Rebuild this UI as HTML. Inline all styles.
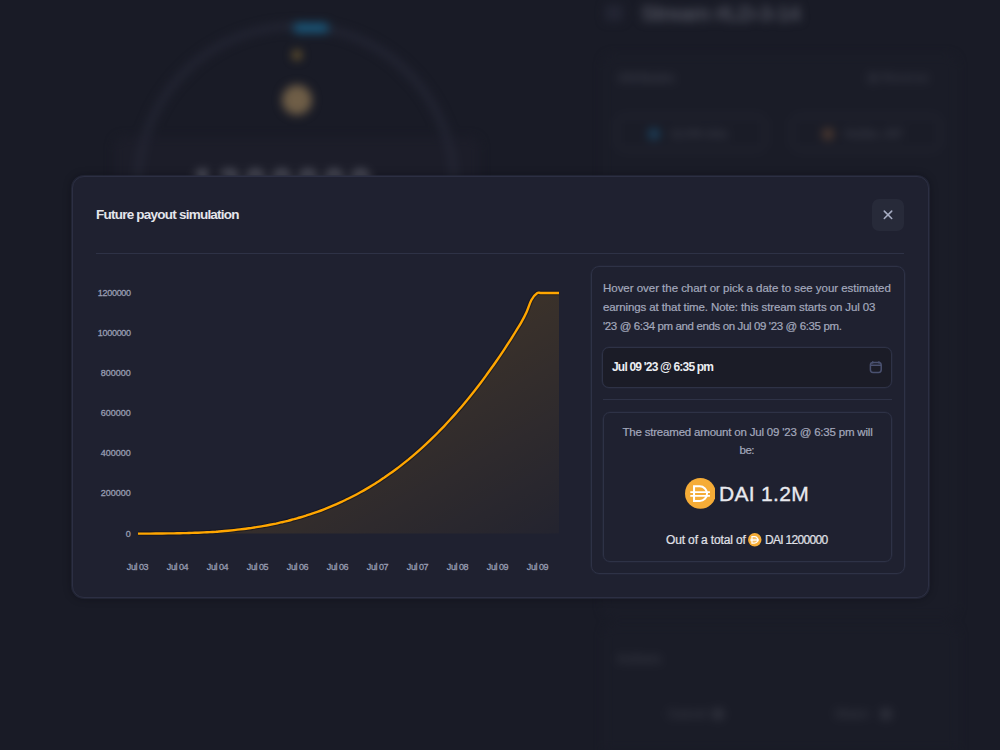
<!DOCTYPE html>
<html><head><meta charset="utf-8">
<style>
*{box-sizing:border-box;margin:0;padding:0}
html,body{width:1000px;height:750px;overflow:hidden;background:#191b26;font-family:"Liberation Sans",sans-serif}
body{position:relative}
.abs{position:absolute}
.t{position:absolute;white-space:nowrap}
#bg{position:absolute;left:0;top:0;width:1000px;height:750px;filter:blur(5px)}
#modal{position:absolute;left:72px;top:176px;width:857px;height:422px;background:#1f2130;border:1px solid #2c2f43;border-radius:12px;box-shadow:0 0 0 1px rgba(42,45,64,0.6),0 0 8px rgba(8,8,14,0.4)}
.hdiv{position:absolute;left:96px;top:253px;width:808px;height:1px;background:#2e3246}
.close{position:absolute;left:872px;top:199px;width:32px;height:32px;border-radius:7px;background:#272a39}
#panel{position:absolute;left:590.5px;top:265.5px;width:314px;height:308.5px;border:1px solid #2e3246;border-radius:8px;box-shadow:0 0 0 0.6px rgba(46,50,70,0.5)}
.inp{position:absolute;left:602px;top:346.5px;width:290px;height:41px;background:#1b1c27;border:1px solid #2e3246;border-radius:7px;box-shadow:0 0 0 0.6px rgba(46,50,70,0.5)}
.pdiv{position:absolute;left:603px;top:399px;width:289px;height:1px;background:#2e3246}
.res{position:absolute;left:603px;top:412px;width:288.5px;height:149.5px;border:1px solid #2e3246;border-radius:7px;box-shadow:0 0 0 0.6px rgba(46,50,70,0.5)}
</style></head><body>
<div id="bg">
  <svg class="abs" style="left:0;top:0" width="1000" height="750">
    <rect x="114" y="137" width="366" height="60" rx="10" fill="#1c1d29"/>
    <rect x="604" y="56" width="352" height="560" rx="10" fill="#1a1c27" stroke="#1d1f2a" stroke-width="2"/>
    <rect x="605" y="626" width="352" height="150" rx="10" fill="#1a1c27" stroke="#1d1f2a" stroke-width="2"/>
    <circle cx="718" cy="714" r="6" fill="#30323d"/>
    <circle cx="886" cy="714" r="6" fill="#30323d"/>
    <circle cx="296" cy="184" r="158" fill="none" stroke="#232533" stroke-width="7"/>
    <rect x="293" y="23" width="36" height="10" rx="5" fill="#1a577a"/>
    <circle cx="297" cy="55" r="4.5" fill="#7a6230"/>
    <circle cx="297" cy="100" r="15" fill="#6f5e47"/>
    <rect x="617" y="116" width="148" height="34" rx="8" fill="none" stroke="#262835" stroke-width="2"/>
    <rect x="792" y="116" width="148" height="34" rx="8" fill="none" stroke="#262835" stroke-width="2"/>
    <circle cx="654" cy="134" r="6" fill="#1b3f5a"/>
    <circle cx="828" cy="134" r="6" fill="#4e3a30"/>
    <rect x="605" y="5" width="18" height="16" rx="3" fill="#232533"/>
    <rect x="868" y="73" width="10" height="10" rx="2" fill="#2a2c38"/>
  </svg>
  <div class="t" style="left:192.5px;top:165px;font-size:38px;line-height:38px;color:#6a6c78;letter-spacing:5.1px;font-weight:bold">1200000</div>
  <div class="t" style="left:641px;top:2px;font-size:22px;line-height:24px;color:#4e505c;letter-spacing:-1.0px;font-weight:bold">Stream #LD-3-14</div>
  <div class="t" style="left:618px;top:71px;font-size:12px;line-height:14px;color:#3b3d49;font-weight:bold">Attributes</div>
  <div class="t" style="left:882px;top:71px;font-size:12px;line-height:14px;color:#353743;font-weight:bold">Reverse</div>
  <div class="t" style="left:670px;top:127px;font-size:12px;line-height:14px;color:#3a3c48;font-weight:bold">12.0% bhz</div>
  <div class="t" style="left:845px;top:127px;font-size:12px;line-height:14px;color:#3a3c48;font-weight:bold">0x2bc..f47</div>
  <div class="t" style="left:617px;top:652px;font-size:12px;line-height:14px;color:#383a45;font-weight:bold">Actions</div>
  <div class="t" style="left:668px;top:707px;font-size:12px;line-height:14px;color:#363843;font-weight:bold">Cancel</div>
  <div class="t" style="left:835px;top:707px;font-size:12px;line-height:14px;color:#363843;font-weight:bold">Share</div>
</div>

<div id="modal"></div>
<div class="close"></div>
<svg class="abs" style="left:872px;top:199px" width="32" height="32" viewBox="0 0 32 32">
  <path d="M12.3 12.1 L19.7 19.5 M19.7 12.1 L12.3 19.5" stroke="#a6acc2" stroke-width="1.6" stroke-linecap="round"/>
</svg>
<div class="hdiv"></div>

<svg class="abs" style="left:0;top:0" width="1000" height="750">
  <defs>
    <linearGradient id="fg" x1="0" y1="0" x2="1" y2="1">
      <stop offset="0" stop-color="#ffa600" stop-opacity="0.22"/>
      <stop offset="1" stop-color="#ffa600" stop-opacity="0.02"/>
    </linearGradient>
  </defs>
  <path d="M138.0,533.6 C139.0,533.6 142.0,533.6 144.0,533.6 C146.0,533.6 148.0,533.6 150.0,533.6 C152.0,533.6 154.0,533.6 156.0,533.5 C158.0,533.5 160.0,533.5 162.0,533.5 C164.0,533.5 166.0,533.5 168.0,533.4 C170.0,533.4 172.0,533.4 174.0,533.4 C176.0,533.3 178.0,533.3 180.0,533.2 C182.0,533.2 184.0,533.1 186.0,533.1 C188.0,533.0 190.0,533.0 192.0,532.9 C194.0,532.8 196.0,532.8 198.0,532.7 C200.0,532.6 202.0,532.5 204.0,532.4 C206.0,532.3 208.0,532.2 210.0,532.1 C212.0,531.9 214.0,531.8 216.0,531.7 C218.0,531.5 220.0,531.4 222.0,531.2 C224.0,531.1 226.0,530.9 228.0,530.7 C230.0,530.5 232.0,530.3 234.0,530.1 C236.0,529.9 238.0,529.7 240.0,529.4 C242.0,529.2 244.0,529.0 246.0,528.7 C248.0,528.4 250.0,528.2 252.0,527.9 C254.0,527.6 256.0,527.3 258.0,526.9 C260.0,526.6 262.0,526.3 264.0,525.9 C266.0,525.6 268.0,525.2 270.0,524.8 C272.0,524.4 274.0,524.0 276.0,523.6 C278.0,523.1 280.0,522.7 282.0,522.2 C284.0,521.8 286.0,521.3 288.0,520.8 C290.0,520.3 292.0,519.7 294.0,519.2 C296.0,518.6 298.0,518.1 300.0,517.5 C302.0,516.9 304.0,516.3 306.0,515.7 C308.0,515.0 310.0,514.4 312.0,513.7 C314.0,513.0 316.0,512.3 318.0,511.6 C320.0,510.9 322.0,510.1 324.0,509.3 C326.0,508.6 328.0,507.8 330.0,506.9 C332.0,506.1 334.0,505.3 336.0,504.4 C338.0,503.5 340.0,502.6 342.0,501.7 C344.0,500.7 346.0,499.8 348.0,498.8 C350.0,497.8 352.0,496.8 354.0,495.7 C356.0,494.7 358.0,493.6 360.0,492.5 C362.0,491.4 364.0,490.3 366.0,489.1 C368.0,488.0 370.0,486.8 372.0,485.5 C374.0,484.3 376.0,483.0 378.0,481.8 C380.0,480.5 382.0,479.1 384.0,477.8 C386.0,476.4 388.0,475.0 390.0,473.6 C392.0,472.2 394.0,470.7 396.0,469.2 C398.0,467.7 400.0,466.2 402.0,464.6 C404.0,463.1 406.0,461.5 408.0,459.9 C410.0,458.2 412.0,456.5 414.0,454.8 C416.0,453.1 418.0,451.4 420.0,449.6 C422.0,447.8 424.0,446.0 426.0,444.1 C428.0,442.3 430.0,440.4 432.0,438.4 C434.0,436.5 436.0,434.5 438.0,432.5 C440.0,430.4 442.0,428.4 444.0,426.3 C446.0,424.2 448.0,422.0 450.0,419.8 C452.0,417.6 454.0,415.4 456.0,413.1 C458.0,410.9 460.0,408.5 462.0,406.2 C464.0,403.8 466.0,401.4 468.0,399.0 C470.0,396.5 472.0,394.0 474.0,391.5 C476.0,388.9 478.0,386.3 480.0,383.7 C482.0,381.1 484.0,378.4 486.0,375.6 C488.0,372.9 490.0,370.1 492.0,367.3 C494.0,364.5 496.0,361.6 498.0,358.7 C500.0,355.8 502.0,352.8 504.0,349.8 C506.0,346.7 508.0,343.7 510.0,340.6 C512.0,337.4 514.2,334.0 516.0,331.0 C517.8,328.1 519.2,326.0 521.0,322.9 C522.8,319.7 524.9,315.8 526.6,312.0 C528.3,308.2 529.7,303.1 531.4,300.0 C533.1,296.9 535.2,294.4 537.0,293.2 C538.8,292.0 538.3,293.0 542.0,293.0 C545.7,293.0 556.2,293.0 559.0,293.0 L559,533.5 L138,533.5 Z" fill="url(#fg)"/>
  <path d="M138.0,533.6 C139.0,533.6 142.0,533.6 144.0,533.6 C146.0,533.6 148.0,533.6 150.0,533.6 C152.0,533.6 154.0,533.6 156.0,533.5 C158.0,533.5 160.0,533.5 162.0,533.5 C164.0,533.5 166.0,533.5 168.0,533.4 C170.0,533.4 172.0,533.4 174.0,533.4 C176.0,533.3 178.0,533.3 180.0,533.2 C182.0,533.2 184.0,533.1 186.0,533.1 C188.0,533.0 190.0,533.0 192.0,532.9 C194.0,532.8 196.0,532.8 198.0,532.7 C200.0,532.6 202.0,532.5 204.0,532.4 C206.0,532.3 208.0,532.2 210.0,532.1 C212.0,531.9 214.0,531.8 216.0,531.7 C218.0,531.5 220.0,531.4 222.0,531.2 C224.0,531.1 226.0,530.9 228.0,530.7 C230.0,530.5 232.0,530.3 234.0,530.1 C236.0,529.9 238.0,529.7 240.0,529.4 C242.0,529.2 244.0,529.0 246.0,528.7 C248.0,528.4 250.0,528.2 252.0,527.9 C254.0,527.6 256.0,527.3 258.0,526.9 C260.0,526.6 262.0,526.3 264.0,525.9 C266.0,525.6 268.0,525.2 270.0,524.8 C272.0,524.4 274.0,524.0 276.0,523.6 C278.0,523.1 280.0,522.7 282.0,522.2 C284.0,521.8 286.0,521.3 288.0,520.8 C290.0,520.3 292.0,519.7 294.0,519.2 C296.0,518.6 298.0,518.1 300.0,517.5 C302.0,516.9 304.0,516.3 306.0,515.7 C308.0,515.0 310.0,514.4 312.0,513.7 C314.0,513.0 316.0,512.3 318.0,511.6 C320.0,510.9 322.0,510.1 324.0,509.3 C326.0,508.6 328.0,507.8 330.0,506.9 C332.0,506.1 334.0,505.3 336.0,504.4 C338.0,503.5 340.0,502.6 342.0,501.7 C344.0,500.7 346.0,499.8 348.0,498.8 C350.0,497.8 352.0,496.8 354.0,495.7 C356.0,494.7 358.0,493.6 360.0,492.5 C362.0,491.4 364.0,490.3 366.0,489.1 C368.0,488.0 370.0,486.8 372.0,485.5 C374.0,484.3 376.0,483.0 378.0,481.8 C380.0,480.5 382.0,479.1 384.0,477.8 C386.0,476.4 388.0,475.0 390.0,473.6 C392.0,472.2 394.0,470.7 396.0,469.2 C398.0,467.7 400.0,466.2 402.0,464.6 C404.0,463.1 406.0,461.5 408.0,459.9 C410.0,458.2 412.0,456.5 414.0,454.8 C416.0,453.1 418.0,451.4 420.0,449.6 C422.0,447.8 424.0,446.0 426.0,444.1 C428.0,442.3 430.0,440.4 432.0,438.4 C434.0,436.5 436.0,434.5 438.0,432.5 C440.0,430.4 442.0,428.4 444.0,426.3 C446.0,424.2 448.0,422.0 450.0,419.8 C452.0,417.6 454.0,415.4 456.0,413.1 C458.0,410.9 460.0,408.5 462.0,406.2 C464.0,403.8 466.0,401.4 468.0,399.0 C470.0,396.5 472.0,394.0 474.0,391.5 C476.0,388.9 478.0,386.3 480.0,383.7 C482.0,381.1 484.0,378.4 486.0,375.6 C488.0,372.9 490.0,370.1 492.0,367.3 C494.0,364.5 496.0,361.6 498.0,358.7 C500.0,355.8 502.0,352.8 504.0,349.8 C506.0,346.7 508.0,343.7 510.0,340.6 C512.0,337.4 514.2,334.0 516.0,331.0 C517.8,328.1 519.2,326.0 521.0,322.9 C522.8,319.7 524.9,315.8 526.6,312.0 C528.3,308.2 529.7,303.1 531.4,300.0 C533.1,296.9 535.2,294.4 537.0,293.2 C538.8,292.0 538.3,293.0 542.0,293.0 C545.7,293.0 556.2,293.0 559.0,293.0" fill="none" stroke="#10111a" stroke-opacity="0.55" stroke-width="4.5"/>
  <path d="M138.0,533.6 C139.0,533.6 142.0,533.6 144.0,533.6 C146.0,533.6 148.0,533.6 150.0,533.6 C152.0,533.6 154.0,533.6 156.0,533.5 C158.0,533.5 160.0,533.5 162.0,533.5 C164.0,533.5 166.0,533.5 168.0,533.4 C170.0,533.4 172.0,533.4 174.0,533.4 C176.0,533.3 178.0,533.3 180.0,533.2 C182.0,533.2 184.0,533.1 186.0,533.1 C188.0,533.0 190.0,533.0 192.0,532.9 C194.0,532.8 196.0,532.8 198.0,532.7 C200.0,532.6 202.0,532.5 204.0,532.4 C206.0,532.3 208.0,532.2 210.0,532.1 C212.0,531.9 214.0,531.8 216.0,531.7 C218.0,531.5 220.0,531.4 222.0,531.2 C224.0,531.1 226.0,530.9 228.0,530.7 C230.0,530.5 232.0,530.3 234.0,530.1 C236.0,529.9 238.0,529.7 240.0,529.4 C242.0,529.2 244.0,529.0 246.0,528.7 C248.0,528.4 250.0,528.2 252.0,527.9 C254.0,527.6 256.0,527.3 258.0,526.9 C260.0,526.6 262.0,526.3 264.0,525.9 C266.0,525.6 268.0,525.2 270.0,524.8 C272.0,524.4 274.0,524.0 276.0,523.6 C278.0,523.1 280.0,522.7 282.0,522.2 C284.0,521.8 286.0,521.3 288.0,520.8 C290.0,520.3 292.0,519.7 294.0,519.2 C296.0,518.6 298.0,518.1 300.0,517.5 C302.0,516.9 304.0,516.3 306.0,515.7 C308.0,515.0 310.0,514.4 312.0,513.7 C314.0,513.0 316.0,512.3 318.0,511.6 C320.0,510.9 322.0,510.1 324.0,509.3 C326.0,508.6 328.0,507.8 330.0,506.9 C332.0,506.1 334.0,505.3 336.0,504.4 C338.0,503.5 340.0,502.6 342.0,501.7 C344.0,500.7 346.0,499.8 348.0,498.8 C350.0,497.8 352.0,496.8 354.0,495.7 C356.0,494.7 358.0,493.6 360.0,492.5 C362.0,491.4 364.0,490.3 366.0,489.1 C368.0,488.0 370.0,486.8 372.0,485.5 C374.0,484.3 376.0,483.0 378.0,481.8 C380.0,480.5 382.0,479.1 384.0,477.8 C386.0,476.4 388.0,475.0 390.0,473.6 C392.0,472.2 394.0,470.7 396.0,469.2 C398.0,467.7 400.0,466.2 402.0,464.6 C404.0,463.1 406.0,461.5 408.0,459.9 C410.0,458.2 412.0,456.5 414.0,454.8 C416.0,453.1 418.0,451.4 420.0,449.6 C422.0,447.8 424.0,446.0 426.0,444.1 C428.0,442.3 430.0,440.4 432.0,438.4 C434.0,436.5 436.0,434.5 438.0,432.5 C440.0,430.4 442.0,428.4 444.0,426.3 C446.0,424.2 448.0,422.0 450.0,419.8 C452.0,417.6 454.0,415.4 456.0,413.1 C458.0,410.9 460.0,408.5 462.0,406.2 C464.0,403.8 466.0,401.4 468.0,399.0 C470.0,396.5 472.0,394.0 474.0,391.5 C476.0,388.9 478.0,386.3 480.0,383.7 C482.0,381.1 484.0,378.4 486.0,375.6 C488.0,372.9 490.0,370.1 492.0,367.3 C494.0,364.5 496.0,361.6 498.0,358.7 C500.0,355.8 502.0,352.8 504.0,349.8 C506.0,346.7 508.0,343.7 510.0,340.6 C512.0,337.4 514.2,334.0 516.0,331.0 C517.8,328.1 519.2,326.0 521.0,322.9 C522.8,319.7 524.9,315.8 526.6,312.0 C528.3,308.2 529.7,303.1 531.4,300.0 C533.1,296.9 535.2,294.4 537.0,293.2 C538.8,292.0 538.3,293.0 542.0,293.0 C545.7,293.0 556.2,293.0 559.0,293.0" fill="none" stroke="#ffa600" stroke-width="2.4"/>
</svg>

<div id="panel"></div>
<div class="inp"></div>
<svg class="abs" style="left:868px;top:360px" width="16" height="16" viewBox="0 0 16 16">
  <rect x="2.4" y="2.4" width="10.8" height="10" rx="2.6" fill="none" stroke="#4a5170" stroke-width="1.5"/>
  <path d="M2.4 5.2 H13.2 M4.7 1.3 V3.4 M10.9 1.3 V3.4" stroke="#4a5170" stroke-width="1.4"/>
</svg>
<div class="pdiv"></div>
<div class="res"></div>
<svg class="abs" style="left:684.5px;top:477.8px" width="30.8" height="30.8" viewBox="0 0 32 32">
  <circle cx="16" cy="16" r="16" fill="#f5ac37"/>
  <path d="M9.4 8.6 H15.3 A7.6 7.6 0 0 1 15.3 23.8 H9.4 Z" fill="none" stroke="#fff" stroke-width="2.1"/>
  <path d="M5.5 14.6 H25.9 M5.5 18.5 H25.9" stroke="#fff" stroke-width="1.8"/>
</svg>
<svg class="abs" style="left:748px;top:533px" width="13.5" height="13.5" viewBox="0 0 32 32">
  <circle cx="16" cy="16" r="16" fill="#f5ac37"/>
  <path d="M9.4 8.6 H15.3 A7.6 7.6 0 0 1 15.3 23.8 H9.4 Z" fill="none" stroke="#fff" stroke-width="2.8"/>
  <path d="M5.5 14.6 H25.9 M5.5 18.5 H25.9" stroke="#fff" stroke-width="2.4"/>
</svg>
<div class="t" style="left:96px;top:207.6px;font-size:13.5px;line-height:13.5px;color:#e4e5eb;letter-spacing:-0.771px;font-weight:bold;">Future payout simulation</div>
<div class="t" style="left:40px;width:90.8px;text-align:right;top:288.6px;font-size:9px;line-height:9px;color:#989db2;letter-spacing:-0.3px;-webkit-text-stroke:0.3px #989db2">1200000</div>
<div class="t" style="left:40px;width:90.8px;text-align:right;top:328.7px;font-size:9px;line-height:9px;color:#989db2;letter-spacing:-0.3px;-webkit-text-stroke:0.3px #989db2">1000000</div>
<div class="t" style="left:40px;width:90.8px;text-align:right;top:368.9px;font-size:9px;line-height:9px;color:#989db2;letter-spacing:0.0px;-webkit-text-stroke:0.3px #989db2">800000</div>
<div class="t" style="left:40px;width:90.8px;text-align:right;top:409.1px;font-size:9px;line-height:9px;color:#989db2;letter-spacing:0.0px;-webkit-text-stroke:0.3px #989db2">600000</div>
<div class="t" style="left:40px;width:90.8px;text-align:right;top:449.1px;font-size:9px;line-height:9px;color:#989db2;letter-spacing:0.0px;-webkit-text-stroke:0.3px #989db2">400000</div>
<div class="t" style="left:40px;width:90.8px;text-align:right;top:489.1px;font-size:9px;line-height:9px;color:#989db2;letter-spacing:0.0px;-webkit-text-stroke:0.3px #989db2">200000</div>
<div class="t" style="left:40px;width:90.8px;text-align:right;top:529.6px;font-size:9px;line-height:9px;color:#989db2;letter-spacing:0.0px;-webkit-text-stroke:0.3px #989db2">0</div>
<div class="t" style="left:107.5px;width:60px;text-align:center;top:563px;font-size:9px;line-height:9px;color:#989db2;letter-spacing:-0.45px;-webkit-text-stroke:0.3px #989db2">Jul 03</div>
<div class="t" style="left:147.5px;width:60px;text-align:center;top:563px;font-size:9px;line-height:9px;color:#989db2;letter-spacing:-0.45px;-webkit-text-stroke:0.3px #989db2">Jul 04</div>
<div class="t" style="left:187.5px;width:60px;text-align:center;top:563px;font-size:9px;line-height:9px;color:#989db2;letter-spacing:-0.45px;-webkit-text-stroke:0.3px #989db2">Jul 04</div>
<div class="t" style="left:227.5px;width:60px;text-align:center;top:563px;font-size:9px;line-height:9px;color:#989db2;letter-spacing:-0.45px;-webkit-text-stroke:0.3px #989db2">Jul 05</div>
<div class="t" style="left:267.5px;width:60px;text-align:center;top:563px;font-size:9px;line-height:9px;color:#989db2;letter-spacing:-0.45px;-webkit-text-stroke:0.3px #989db2">Jul 06</div>
<div class="t" style="left:307.5px;width:60px;text-align:center;top:563px;font-size:9px;line-height:9px;color:#989db2;letter-spacing:-0.45px;-webkit-text-stroke:0.3px #989db2">Jul 06</div>
<div class="t" style="left:347.5px;width:60px;text-align:center;top:563px;font-size:9px;line-height:9px;color:#989db2;letter-spacing:-0.45px;-webkit-text-stroke:0.3px #989db2">Jul 07</div>
<div class="t" style="left:387.5px;width:60px;text-align:center;top:563px;font-size:9px;line-height:9px;color:#989db2;letter-spacing:-0.45px;-webkit-text-stroke:0.3px #989db2">Jul 07</div>
<div class="t" style="left:427.5px;width:60px;text-align:center;top:563px;font-size:9px;line-height:9px;color:#989db2;letter-spacing:-0.45px;-webkit-text-stroke:0.3px #989db2">Jul 08</div>
<div class="t" style="left:467.5px;width:60px;text-align:center;top:563px;font-size:9px;line-height:9px;color:#989db2;letter-spacing:-0.45px;-webkit-text-stroke:0.3px #989db2">Jul 09</div>
<div class="t" style="left:507.5px;width:60px;text-align:center;top:563px;font-size:9px;line-height:9px;color:#989db2;letter-spacing:-0.45px;-webkit-text-stroke:0.3px #989db2">Jul 09</div>
<div class="t" style="left:603px;top:283.1px;font-size:11.5px;line-height:11.5px;color:#a4a9bd;letter-spacing:-0.031px;-webkit-text-stroke:0.2px #a4a9bd;">Hover over the chart or pick a date to see your estimated</div>
<div class="t" style="left:603px;top:301.9px;font-size:11.5px;line-height:11.5px;color:#a4a9bd;letter-spacing:-0.112px;-webkit-text-stroke:0.2px #a4a9bd;">earnings at that time. Note: this stream starts on Jul 03</div>
<div class="t" style="left:603px;top:320.7px;font-size:11.5px;line-height:11.5px;color:#a4a9bd;letter-spacing:-0.373px;-webkit-text-stroke:0.2px #a4a9bd;">'23 @ 6:34 pm and ends on Jul 09 '23 @ 6:35 pm.</div>
<div class="t" style="left:612px;top:360.8px;font-size:12px;line-height:12px;color:#eceef3;letter-spacing:-0.802px;font-weight:bold;">Jul 09 '23 @ 6:35 pm</div>
<div class="t" style="left:622.4px;top:427px;font-size:11.5px;line-height:11.5px;color:#a4a9bd;letter-spacing:-0.191px;-webkit-text-stroke:0.2px #a4a9bd;">The streamed amount on Jul 09 '23 @ 6:35 pm will</div>
<div class="t" style="left:739.5px;top:445px;font-size:11.5px;line-height:11.5px;color:#a4a9bd;letter-spacing:-0.484px;-webkit-text-stroke:0.2px #a4a9bd;">be:</div>
<div class="t" style="left:719px;top:483px;font-size:21px;line-height:21px;color:#e8e9ee;letter-spacing:0.300px;-webkit-text-stroke:0.35px #e8e9ee;">DAI 1.2M</div>
<div class="t" style="left:666px;top:534.2px;font-size:12px;line-height:12px;color:#e0e2e9;letter-spacing:-0.143px;-webkit-text-stroke:0.2px #e0e2e9;">Out of a total of</div>
<div class="t" style="left:765px;top:534.2px;font-size:12px;line-height:12px;color:#e0e2e9;letter-spacing:-0.693px;-webkit-text-stroke:0.2px #e0e2e9;">DAI 1200000</div>

</body></html>
